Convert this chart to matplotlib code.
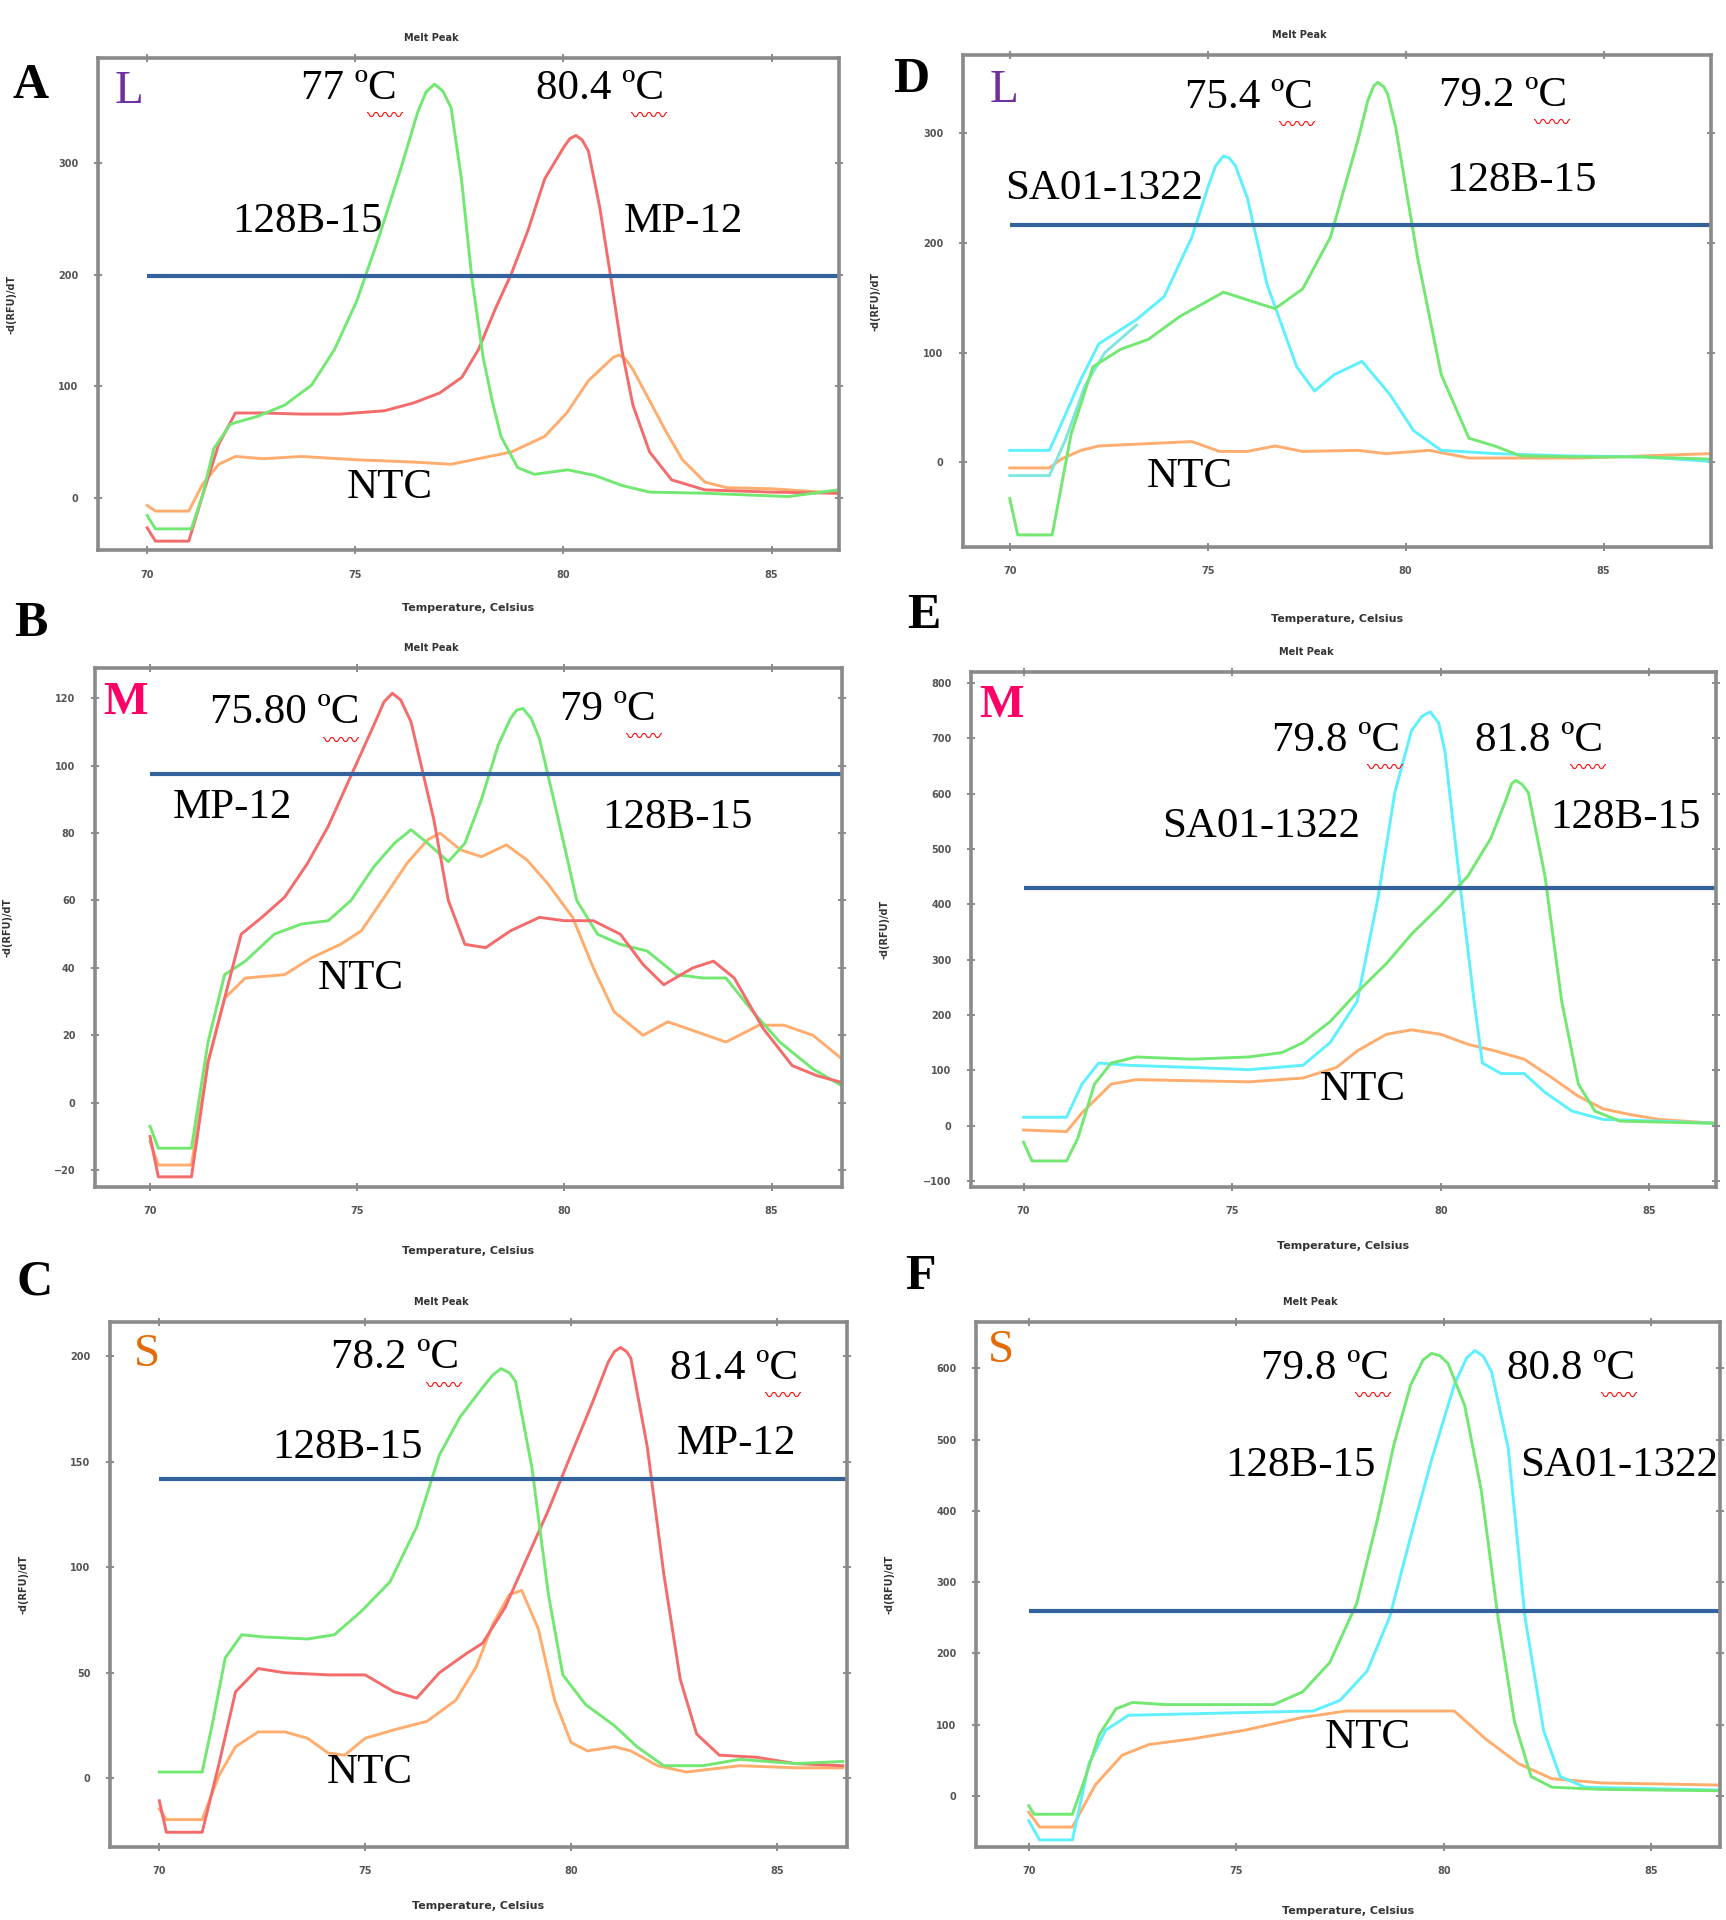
import matplotlib
matplotlib.use("Agg")
import matplotlib.pyplot as plt

# ---------------- data ----------------
# panel A (L): 128B-15 green, MP-12 red, NTC orange
a_green_t = [70.0, 70.2, 71.06, 71.33, 71.6, 72.0, 72.65, 73.3, 73.95, 74.5, 75.03, 75.56, 76.1, 76.5, 76.7, 76.9, 77.1, 77.3, 77.55, 77.8, 78.07, 78.3, 78.5, 78.9, 79.3, 80.1, 80.75, 81.4, 82.07, 83.4, 85.4, 86.6]
a_green_v = [-16, -28, -28, 2, 44, 66, 73, 83, 101, 133, 176, 233, 296, 346, 364, 371, 365, 350, 286, 197, 126, 85, 55, 27, 21, 25, 20, 11, 5, 4, 1, 7]
a_red_t = [70.0, 70.2, 71.0, 71.33, 71.72, 72.12, 72.8, 73.7, 74.64, 75.7, 76.4, 77.03, 77.56, 77.96, 78.36, 78.75, 79.15, 79.55, 80.0, 80.15, 80.3, 80.45, 80.6, 80.87, 81.14, 81.4, 81.67, 82.07, 82.6, 83.4, 85.0, 86.6]
a_red_v = [-27, -39, -39, 2, 48, 76, 76, 75, 75, 78, 85, 94, 108, 133, 169, 201, 240, 286, 314, 322, 325, 321, 311, 261, 197, 133, 83, 41, 16, 7, 5, 4]
a_ntc_t = [70.0, 70.2, 71.0, 71.33, 71.72, 72.12, 72.8, 73.7, 75.04, 76.37, 77.3, 77.96, 78.75, 79.55, 80.08, 80.6, 81.0, 81.2, 81.34, 81.5, 81.67, 82.07, 82.47, 82.86, 83.4, 83.92, 85.0, 86.6]
a_ntc_v = [-7, -12, -12, 12, 30, 37, 35, 37, 34, 32, 30, 35, 41, 55, 76, 105, 119, 126, 128, 124, 115, 87, 59, 34, 14, 9, 8, 4]

# panel B (M): MP-12 red, 128B-15 green, NTC orange
b_red_t = [70.0, 70.2, 71.0, 71.4, 71.8, 72.2, 72.7, 73.25, 73.8, 74.3, 74.85, 75.4, 75.65, 75.85, 76.05, 76.3, 76.85, 77.2, 77.6, 78.1, 78.7, 79.4, 80.0, 80.7, 81.35, 81.9, 82.4, 83.1, 83.6, 84.1, 84.8, 85.5, 86.1, 86.7]
b_red_v = [-10, -22, -22, 12, 31, 50, 55, 61, 71, 82, 97, 112, 119, 121.5, 119.5, 113, 84, 60, 47, 46, 51, 55, 54, 54, 50, 41, 35, 40, 42, 37, 22, 11, 8, 6]
b_green_t = [70.0, 70.2, 71.0, 71.4, 71.8, 72.3, 73.0, 73.65, 74.3, 74.85, 75.4, 75.9, 76.3, 76.7, 77.2, 77.6, 78.0, 78.4, 78.7, 78.85, 79.0, 79.2, 79.4, 79.8, 80.3, 80.8, 81.35, 82.0, 82.7, 83.35, 83.9, 84.55, 85.2, 86.0, 86.7]
b_green_v = [-7, -13.5, -13.5, 18, 38, 42, 50, 53, 54, 60, 70, 77, 81, 77, 71.5, 77, 90, 106, 114, 116.5, 117, 114, 108, 87, 60, 50, 47, 45, 38, 37, 37, 27, 18, 10, 5]
b_ntc_t = [70.0, 70.2, 71.0, 71.4, 71.8, 72.3, 73.25, 73.9, 74.6, 75.1, 75.6, 76.2, 76.7, 77.0, 77.5, 78.0, 78.6, 79.1, 79.6, 80.2, 80.7, 81.2, 81.9, 82.5, 83.2, 83.9, 84.7, 85.3, 86.0, 86.7]
b_ntc_v = [-11.6, -18.5, -18.5, 12, 31, 37, 38, 43, 47, 51, 60, 71, 78, 80, 75, 73, 76.5, 72, 65, 55, 40, 27, 20, 24, 21, 18, 23, 23, 20, 13]

# panel C (S): 128B-15 green, MP-12 red, NTC orange
c_green_t = [70.0, 71.04, 71.3, 71.6, 72.0, 72.5, 73.6, 74.25, 74.9, 75.6, 76.25, 76.8, 77.3, 77.85, 78.1, 78.3, 78.5, 78.65, 79.05, 79.45, 79.8, 80.35, 81.05, 81.6, 82.25, 83.2, 84.1, 85.45, 86.6]
c_green_v = [3, 3, 27, 57, 68, 67, 66, 68, 79, 93, 119, 153, 171, 185, 191, 194, 192, 188, 147, 87, 49, 35, 25, 15, 6, 6, 9, 7, 8]
c_red_t = [70.0, 70.17, 71.04, 71.45, 71.85, 72.4, 73.05, 74.1, 75.0, 75.7, 76.25, 76.8, 77.45, 77.85, 78.4, 78.9, 79.45, 79.95, 80.5, 80.9, 81.05, 81.2, 81.35, 81.45, 81.85, 82.25, 82.65, 83.05, 83.6, 84.5, 85.45, 86.6]
c_red_v = [-10.6, -25.5, -25.5, 7, 41, 52, 50, 49, 49, 41, 38, 50, 59, 64, 81, 103, 127, 151, 177, 197, 202, 204, 202, 199, 157, 97, 47, 21, 11, 10, 7, 6]
c_ntc_t = [70.0, 70.17, 71.04, 71.45, 71.85, 72.4, 73.05, 73.6, 74.1, 74.5, 75.0, 75.7, 76.5, 77.2, 77.7, 78.1, 78.5, 78.8, 79.2, 79.6, 80.0, 80.4, 81.05, 81.45, 82.1, 82.8, 84.1, 85.45, 86.6]
c_ntc_v = [-14.5, -19.5, -19.5, 1.4, 15, 22, 22, 19, 12, 11, 19, 23, 27, 37, 53, 73, 87, 89, 71, 37, 17, 13, 15, 13, 6, 3, 6, 5, 5]

# panel D (L): SA01-1322 cyan, 128B-15 green, NTC orange
d_cyan_t = [70.0, 71.0, 71.3, 71.8, 72.25, 73.2, 73.9, 74.6, 75.0, 75.2, 75.4, 75.55, 75.7, 76.0, 76.5, 77.25, 77.7, 78.2, 78.9, 79.6, 80.2, 80.9, 82.3, 84.0, 86.0, 87.7]
d_cyan_v = [11, 11, 35, 76, 108, 130, 151, 205, 250, 270, 279, 277, 270, 241, 162, 87, 65, 80, 92, 62, 29, 11, 8, 6, 5, 1]
d_cyan2_t = [70.0, 71.0, 71.4, 71.9, 72.4, 73.2]
d_cyan2_v = [-12, -12, 20, 70, 100, 125]
d_green_t = [70.0, 70.2, 71.07, 71.55, 72.1, 72.8, 73.5, 74.3, 75.4, 76.0, 76.7, 77.4, 78.1, 78.8, 79.05, 79.2, 79.3, 79.45, 79.55, 79.75, 80.3, 80.9, 81.6, 82.25, 82.9, 84.5, 86.0, 87.7]
d_green_v = [-33, -66, -66, 26, 87, 103, 112, 133, 155, 148, 140, 158, 205, 294, 330, 343, 346, 342, 335, 305, 187, 80, 22, 15, 6, 5, 5, 3]
d_ntc_t = [70.0, 71.0, 71.3, 71.8, 72.25, 74.6, 75.3, 76.0, 76.7, 77.4, 78.8, 79.5, 80.6, 81.6, 84.4, 87.7]
d_ntc_v = [-5, -5, 3, 11, 15, 19, 10, 10, 15, 10, 11, 8, 11, 4, 4, 8]

# panel E (M): SA01-1322 cyan, 128B-15 green, NTC orange
e_cyan_t = [70.0, 71.03, 71.4, 71.8, 72.5, 74.05, 75.4, 76.7, 77.35, 78.0, 78.5, 78.9, 79.3, 79.55, 79.75, 79.95, 80.1, 80.5, 80.8, 81.0, 81.45, 82.0, 82.5, 83.15, 83.9, 85.25, 86.6]
e_cyan_v = [15, 15, 75, 113, 109, 105, 101, 109, 150, 225, 413, 602, 714, 740, 748, 728, 677, 413, 225, 113, 94, 94, 60, 26, 11, 8, 4]
e_green_t = [70.0, 70.2, 71.03, 71.3, 71.7, 72.1, 72.7, 74.05, 75.4, 76.2, 76.7, 77.35, 78.0, 78.7, 79.3, 80.0, 80.65, 81.2, 81.55, 81.7, 81.8, 81.95, 82.1, 82.5, 82.9, 83.3, 83.7, 84.3, 86.6]
e_green_v = [-30, -64, -64, -23, 75, 113, 124, 120, 124, 132, 150, 188, 241, 293, 346, 398, 451, 519, 586, 618, 624, 617, 602, 451, 225, 75, 26, 8, 4]
e_ntc_t = [70.0, 71.03, 71.4, 72.1, 72.7, 75.4, 76.7, 77.5, 78.0, 78.7, 79.3, 80.0, 80.65, 81.3, 82.0, 82.6, 83.3, 83.9, 84.6, 85.25, 86.6]
e_ntc_v = [-8, -11, 23, 75, 83, 79, 86, 105, 135, 165, 173, 165, 147, 135, 120, 90, 53, 30, 19, 11, 4]

# panel F (S): 128B-15 green, SA01-1322 cyan, NTC orange
f_green_t = [70.0, 70.13, 71.05, 71.3, 71.7, 72.1, 72.5, 73.3, 75.9, 76.6, 77.25, 77.9, 78.4, 78.8, 79.2, 79.5, 79.7, 79.9, 80.1, 80.5, 80.9, 81.3, 81.7, 82.1, 82.6, 83.8, 86.65]
f_green_v = [-14, -26, -26, 15, 86, 122, 131, 128, 128, 146, 187, 270, 388, 494, 577, 612, 621, 618, 607, 548, 429, 252, 104, 27, 12, 9, 7]
f_cyan_t = [70.0, 70.26, 71.05, 71.45, 71.85, 72.4, 74.6, 76.85, 77.5, 78.15, 78.7, 79.2, 79.7, 80.25, 80.55, 80.75, 80.95, 81.15, 81.55, 81.95, 82.4, 82.8, 83.4, 86.65]
f_cyan_v = [-35, -62, -62, 45, 92, 113, 116, 119, 134, 175, 252, 364, 471, 577, 615, 625, 617, 595, 488, 252, 92, 27, 12, 8]
f_ntc_t = [70.0, 70.26, 71.05, 71.6, 72.25, 72.9, 73.95, 75.2, 76.6, 77.65, 79.2, 80.25, 81.0, 81.8, 82.6, 83.8, 86.65]
f_ntc_v = [-23, -44, -44, 15, 57, 72, 80, 92, 110, 119, 119, 119, 80, 45, 24, 18, 15]

# threshold lines
thresholds = {"A": 199, "B": 97.5, "C": 141.5, "D": 216, "E": 430, "F": 259}

GREEN = "#72e872"
RED = "#f46b6b"
ORANGE = "#ffad6e"
CYAN = "#5ef0ff"
TEAL = "#7fe6df"
BLUE = "#33629d"
SERIF = "Liberation Serif"

fig = plt.figure(figsize=(17.26, 19.2), dpi=100)


def melt_panel(rect, xlim, ylim, yticks, thresh, curves, xlab_y=-0.11):
    ax = fig.add_axes(rect)
    for t, v, c in curves:
        ax.plot(t, v, color=c, lw=2.1, solid_joinstyle="round")
    ax.hlines(thresh, 70, xlim[1], color=BLUE, lw=3.0)
    ax.set_xlim(*xlim)
    ax.set_ylim(*ylim)
    ax.set_xticks([70, 75, 80, 85])
    ax.set_yticks(yticks)
    for s in ax.spines.values():
        s.set_color("#8a8a8a")
        s.set_linewidth(2.6)
    ax.tick_params(direction="inout", length=6, width=1.2, color="#777777",
                   top=True, right=True, labelsize=7, labelcolor="#555555", pad=11)
    for lab in ax.get_xticklabels() + ax.get_yticklabels():
        lab.set_fontweight("bold")
    ax.set_title("Melt Peak", fontsize=7, fontweight="bold", color="#333333", pad=12, x=0.45)
    ax.set_xlabel("Temperature, Celsius", fontsize=8, fontweight="bold", color="#333333")
    ax.set_ylabel("-d(RFU)/dT", fontsize=7, fontweight="bold", color="#333333")
    ax.yaxis.set_label_coords(-0.11, 0.5)
    ax.xaxis.set_label_coords(0.5, xlab_y)
    return ax


def word(ax, x, y, s, **kw):
    return ax.text(x, y, s, fontsize=31, family=SERIF, ha="center", va="center",
                   clip_on=False, **kw)


def temp(ax, x, y, s):
    # value with the spell-check squiggle under the unit, as in the figure
    t = word(ax, x, y, s + " \u00baC")
    ax.annotate("\u3030\u3030", xy=(0.88, 0.02), xycoords=t, ha="center", va="top",
                color="red", fontsize=13, family=["Noto Sans CJK SC", "DejaVu Sans"])


def letter(ax, x, y, s, color, bold=False):
    ax.text(x, y, s, fontsize=34, family=SERIF, color=color, ha="center", va="center",
            fontweight="bold" if bold else "normal", clip_on=False)


# ---- A ----
ax = melt_panel([0.0568, 0.7135, 0.4293, 0.2563], (68.82, 86.62), (-47, 394.5), [0, 100, 200, 300],
                thresholds["A"], [(a_ntc_t, a_ntc_v, ORANGE), (a_red_t, a_red_v, RED), (a_green_t, a_green_v, GREEN)],
                xlab_y=-0.108)
letter(ax, 69.56, 364, "L", "#7030a0")
temp(ax, 74.85, 367, "77")
temp(ax, 80.88, 367, "80.4")
word(ax, 73.85, 248, "128B-15")
word(ax, 82.88, 248, "MP-12")
word(ax, 75.82, 8.8, "NTC")

# ---- B ----
ax = melt_panel([0.0550, 0.3818, 0.4328, 0.2703], (68.67, 86.7), (-25, 129), [-20, 0, 20, 40, 60, 80, 100, 120],
                thresholds["B"], [(b_ntc_t, b_ntc_v, ORANGE), (b_green_t, b_green_v, GREEN), (b_red_t, b_red_v, RED)],
                xlab_y=-0.114)
letter(ax, 69.41, 118.5, "M", "#ff0066", bold=True)
temp(ax, 73.25, 115.6, "75.80")
temp(ax, 81.04, 116.7, "79")
word(ax, 71.98, 87.6, "MP-12")
word(ax, 82.72, 84.7, "128B-15")
word(ax, 75.09, 36.7, "NTC")

# ---- C ----
ax = melt_panel([0.0637, 0.038, 0.427, 0.2734], (68.8, 86.7), (-32.5, 216), [0, 50, 100, 150, 200],
                thresholds["C"], [(c_ntc_t, c_ntc_v, ORANGE), (c_red_t, c_red_v, RED), (c_green_t, c_green_v, GREEN)],
                xlab_y=-0.103)
letter(ax, 69.7, 200.7, "S", "#e36c09")
temp(ax, 75.73, 199, "78.2")
temp(ax, 83.96, 194, "81.4")
word(ax, 74.57, 156.6, "128B-15")
word(ax, 84.02, 158.4, "MP-12")
word(ax, 75.11, 2.9, "NTC")

# ---- D ----
ax = melt_panel([0.558, 0.7151, 0.4334, 0.2563], (68.82, 87.72), (-77, 371), [0, 100, 200, 300],
                thresholds["D"], [(d_ntc_t, d_ntc_v, ORANGE), (d_cyan2_t, d_cyan2_v, TEAL),
                                  (d_cyan_t, d_cyan_v, CYAN), (d_green_t, d_green_v, GREEN)],
                xlab_y=-0.137)
letter(ax, 69.85, 338, "L", "#7030a0")
temp(ax, 76.03, 332, "75.4")
temp(ax, 82.47, 334, "79.2")
word(ax, 72.38, 249, "SA01-1322")
word(ax, 82.93, 256, "128B-15")
word(ax, 74.55, -13, "NTC")

# ---- E ----
ax = melt_panel([0.5626, 0.3818, 0.4316, 0.2682], (68.74, 86.6), (-111, 820), list(range(-100, 801, 100)),
                thresholds["E"], [(e_ntc_t, e_ntc_v, ORANGE), (e_cyan_t, e_cyan_v, CYAN), (e_green_t, e_green_v, GREEN)],
                xlab_y=-0.105)
letter(ax, 69.47, 758, "M", "#ff0066", bold=True)
temp(ax, 77.49, 696, "79.8")
temp(ax, 82.36, 696, "81.8")
word(ax, 75.7, 541, "SA01-1322")
word(ax, 84.44, 556, "128B-15")
word(ax, 78.13, 64, "NTC")

# ---- F ----
ax = melt_panel([0.5655, 0.038, 0.431, 0.2734], (68.73, 86.65), (-72, 665), [0, 100, 200, 300, 400, 500, 600],
                thresholds["F"], [(f_ntc_t, f_ntc_v, ORANGE), (f_cyan_t, f_cyan_v, CYAN), (f_green_t, f_green_v, GREEN)],
                xlab_y=-0.112)
letter(ax, 69.32, 625, "S", "#e36c09")
temp(ax, 77.13, 600, "79.8")
temp(ax, 83.05, 600, "80.8")
word(ax, 76.54, 464, "128B-15")
ax.text(81.84, 464, "SA01-1322", fontsize=31, family=SERIF, ha="left", va="center", clip_on=False)
word(ax, 78.16, 81, "NTC")

# panel letters
for s, x, y in [("A", 0.0177, 0.9554), ("B", 0.0177, 0.675), ("C", 0.0199, 0.332),
                ("D", 0.528, 0.9585), ("E", 0.5355, 0.679), ("F", 0.5333, 0.335)]:
    fig.text(x, y, s, fontsize=36, family=SERIF, fontweight="bold", ha="center", va="center")

fig.savefig("out.png", dpi=100, facecolor="white")
